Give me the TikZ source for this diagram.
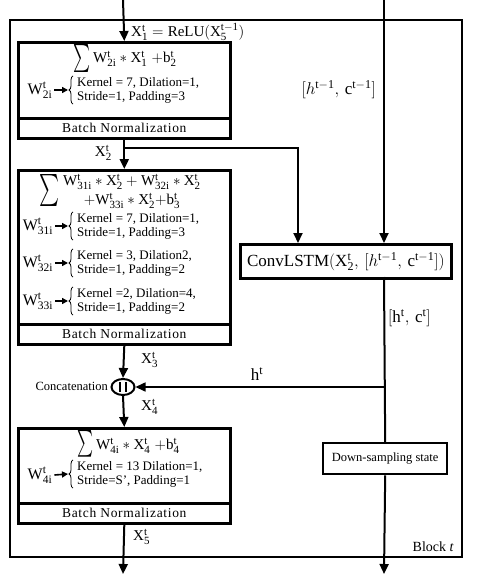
\documentclass[tikz,border=0pt]{standalone}
\usepackage{fix-cm}
\usepackage{fontspec}
\setmainfont{Liberation Serif}
\usetikzlibrary{arrows.meta,shapes.geometric,decorations.pathreplacing,calc}
\DeclareMathSizes{15}{15}{11}{8}
\DeclareMathSizes{16}{16}{11.5}{8.5}
\DeclareMathSizes{17}{17}{12}{9}
\newcommand{\V}[3]{\mathrm{#1}^{\mathrm{#2}}_{\mathrm{#3}}}
\newcommand{\bigsig}[2]{\resizebox{#1}{#2}{$\sum$}}
\begin{document}
\begin{tikzpicture}[x=1pt,y=-1pt,
  main/.style={line width=2pt},
  arr/.style={main,-{Triangle[length=10pt,width=9pt]}},
  harr/.style={line width=1.6pt,-{Triangle[length=10pt,width=9pt]}},
  warr/.style={line width=1.6pt,-{Triangle[length=6pt,width=6pt]}},
  box/.style={draw,line width=2.6pt,inner sep=0pt,anchor=north west},
  bnbox/.style={box,minimum width=212pt,minimum height=20pt,font=\fontsize{13.5}{15}\selectfont\addfontfeatures{LetterSpace=5}},
  frm/.style={inner sep=0pt,font=\fontsize{15}{17}\selectfont},
  sig/.style={inner sep=0pt},
  lab/.style={inner sep=0pt,font=\fontsize{15}{17}\selectfont},
  hlab/.style={inner sep=0pt,font=\fontsize{17}{19}\selectfont},
  wl/.style={inner sep=0pt,font=\fontsize{16}{18}\selectfont},
  par/.style={inner sep=0pt,anchor=west,align=left,font=\fontsize{13}{14}\selectfont},
  brc/.style={decorate,decoration={brace,amplitude=4pt},line width=0.8pt},
  catn/.style={draw,ellipse,line width=2pt,minimum width=23pt,minimum height=16pt,inner sep=0pt}
]
\useasboundingbox (0,0) rectangle (490,576);
\fill[white] (0,0) rectangle (490,576);

% outer block
\node[draw,line width=2pt,inner sep=0pt,anchor=north west,minimum width=452pt,minimum height=537pt] (block) at (9,19) {};
\node[inner sep=0pt,anchor=east,font=\fontsize{14}{16}\selectfont] (blab) at (454,547) {Block \textit{t}};

% box 1
\node[box,minimum width=212pt,minimum height=76pt] (f1) at (17,41) {};
\node[bnbox] (bn1) at (17,117) {Batch Normalization};
\node[sig] (sig1) at (82,58) {\bigsig{17pt}{21pt}};
\node[frm,anchor=west] (s1) at (93,59) {$\V{W}{t}{2i} \ast \V{X}{t}{1} \;{+}\V{b}{t}{2}$};
\node[wl] (w1) at (40,90) {$\V{W}{t}{2i}$};
\node[par] (p1) at (77,90) {Kernel = 7, Dilation=1,\\Stride=1, Padding=3};

% box 2
\node[box,minimum width=212pt,minimum height=154pt] (f2) at (17,169) {};
\node[bnbox] (bn2) at (17,323) {Batch Normalization};
\node[sig] (sig2) at (50,190) {\bigsig{20pt}{24pt}};
\node[frm,anchor=west] (l21) at (63,182) {$\V{W}{t}{31i}\ast\V{X}{t}{2} + \V{W}{t}{32i}\ast\V{X}{t}{2}$};
\node[frm] (l22) at (132,201) {$+\V{W}{t}{33i}\ast\V{X}{t}{2}{+}\V{b}{t}{3}$};
\node[wl] (w31) at (38,226) {$\V{W}{t}{31i}$};
\node[par] (p31) at (77,226) {Kernel = 7, Dilation=1,\\Stride=1, Padding=3};
\node[wl] (w32) at (38,263) {$\V{W}{t}{32i}$};
\node[par] (p32) at (77,263) {Kernel = 3, Dilation2,\\Stride=1, Padding=2};
\node[wl] (w33) at (38,301) {$\V{W}{t}{33i}$};
\node[par] (p33) at (77,301) {Kernel =2, Dilation=4,\\Stride=1, Padding=2};

% box 4
\node[box,minimum width=212pt,minimum height=75pt] (f4) at (17,427) {};
\node[bnbox] (bn4) at (17,502) {Batch Normalization};
\node[sig] (sig4) at (85,444) {\bigsig{16pt}{20pt}};
\node[frm,anchor=west] (s4) at (96,446) {$\V{W}{t}{4i}\ast\V{X}{t}{4}\;{+}\V{b}{t}{4}$};
\node[wl] (w4) at (40,475) {$\V{W}{t}{4i}$};
\node[par] (p4) at (77,474) {Kernel = 13 Dilation=1,\\Stride=S’, Padding=1};

% braces and small arrows
\foreach \w/\p in {w1/p1,w31/p31,w32/p32,w33/p33,w4/p4}{
  \draw[brc] ([xshift=-4pt,yshift=-1pt]\p.south west) -- ([xshift=-4pt,yshift=1pt]\p.north west);
  \draw[warr] (\w.east) ++(2pt,0) -- ([xshift=-9pt]\p.west);
}

% ConvLSTM and down-sampling
\node[box,minimum width=211pt,minimum height=34pt,font=\fontsize{17}{19}\selectfont] (conv) at (239,243) {$\mathrm{ConvLSTM}(\V{X}{t}{2},\,[h^{\mathrm{t-1}},\,\mathrm{c}^{\mathrm{t-1}}])$};
\node[box,line width=2.4pt,minimum width=124pt,minimum height=31pt,font=\fontsize{12.5}{14}\selectfont] (down) at (322,442) {Down-sampling state};

% concatenation
\node[catn] (cat) at (123,387) {};
\draw[line width=2pt] ($(cat.center)+(-3,-5)$) -- ($(cat.center)+(-3,5)$);
\draw[line width=2pt] ($(cat.center)+(3,-5)$) -- ($(cat.center)+(3,5)$);
\node[inner sep=0pt,anchor=east,font=\fontsize{12.5}{14}\selectfont] (catlab) at (108,386) {Concatenation};

% labels
\node[lab,anchor=west] (x1lab) at (131,32) {$\V{X}{t}{1} = \mathrm{ReLU}(\V{X}{t-1}{5})$};
\node[lab,anchor=east] (x2lab) at (112,153) {$\V{X}{t}{2}$};
\node[lab,anchor=west] (x3lab) at (141,360) {$\V{X}{t}{3}$};
\node[lab,anchor=west] (x4lab) at (141,407) {$\V{X}{t}{4}$};
\node[lab,anchor=west] (x5lab) at (133,537) {$\V{X}{t}{5}$};
\node[hlab,anchor=east] (hprev) at (376,90) {$[h^{\mathrm{t-1}},\,\mathrm{c}^{\mathrm{t-1}}]$};
\node[hlab] (htlab) at (257,374) {$\mathrm{h}^{\mathrm{t}}$};
\node[hlab,anchor=west] (hclab) at (388,318) {$[\mathrm{h}^{\mathrm{t}},\,\mathrm{c}^{\mathrm{t}}]$};

% coordinates
\coordinate (in1) at (123,0);
\coordinate (out1) at (123,574);
\coordinate (in2) at (384,0);
\coordinate (out2) at (384,574);
\coordinate (br) at (123,148);
\coordinate (c1) at (298,243);
\coordinate (c2) at (384,243);
\coordinate (c3) at (384,277);
\coordinate (hj) at (384,387);

% connectors
\draw[arr] (in1) -- (f1.north);
\draw[arr] (bn1.south) -- (f2.north);
\draw[arr] (br) -| (c1);
\draw[arr] (in2) -- (c2);
\draw[main] (c3) -- (down.north);
\draw[arr] (down.south) -- (out2);
\draw[arr] (bn2.south) -- (cat.north);
\draw[arr] (cat.south) -- (f4.north);
\draw[arr] (bn4.south) -- (out1);
\draw[harr] (hj) -- (cat.east);
\end{tikzpicture}
\end{document}
